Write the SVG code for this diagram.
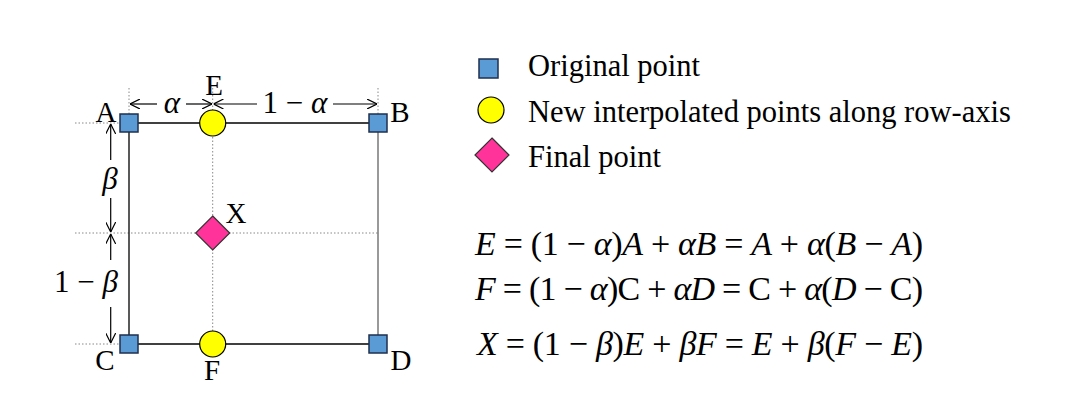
<svg xmlns="http://www.w3.org/2000/svg" width="1065" height="414" viewBox="0 0 1065 414">
<defs>
<style>
text{font-family:'Liberation Serif','Times New Roman','DejaVu Serif',serif;fill:#000}
.lbl{font-size:29px}
.dim{font-size:31px}
.leg{font-size:30.5px}
.eq{font-size:34px}
.i{font-style:italic}
.dot{stroke:#888;stroke-width:1;stroke-dasharray:1.5 2;fill:none}
.sq{fill:#5b9bd5;stroke:#1f2f4f;stroke-width:1.5}
.ci{fill:#ffff00;stroke:#000;stroke-width:1.2}
.di{fill:#ff3399;stroke:#333;stroke-width:1.2}
.arr{stroke:#000;stroke-width:1.2;fill:none;marker-end:url(#ah)}
</style>
<marker id="ah" viewBox="0 0 10 10" refX="10" refY="5" markerWidth="10" markerHeight="10" markerUnits="userSpaceOnUse" orient="auto">
<path d="M0,0 L10,5 L0,10" fill="none" stroke="#000" stroke-width="1.2"/>
</marker>
</defs>
<rect width="1065" height="414" fill="#fff"/>
<g id="guides">
<line class="dot" x1="75" y1="123" x2="129" y2="123"/>
<line class="dot" x1="75" y1="233" x2="378" y2="233"/>
<line class="dot" x1="75" y1="344" x2="129" y2="344"/>
<line class="dot" x1="129" y1="88" x2="129" y2="123"/>
<line class="dot" x1="378" y1="88" x2="378" y2="123"/>
<line class="dot" x1="212.7" y1="88" x2="212.7" y2="344"/>
</g>
<g id="connectors">
<line x1="129" y1="123" x2="378" y2="123" stroke="#000" stroke-width="1.5"/>
<line x1="129" y1="344" x2="378" y2="344" stroke="#000" stroke-width="1.5"/>
<line x1="129" y1="123" x2="129" y2="344" stroke="#222" stroke-width="1.5"/>
<line x1="378" y1="123" x2="378" y2="344" stroke="#777" stroke-width="1.5"/>
<line class="arr" x1="157" y1="104" x2="130" y2="104"/>
<line class="arr" x1="186" y1="104" x2="212" y2="104"/>
<line class="arr" x1="257" y1="104" x2="213.5" y2="104"/>
<line class="arr" x1="333" y1="104" x2="377" y2="104"/>
<line class="arr" x1="110.7" y1="160" x2="110.7" y2="124"/>
<line class="arr" x1="110.7" y1="198" x2="110.7" y2="232"/>
<line class="arr" x1="110.7" y1="260" x2="110.7" y2="234"/>
<line class="arr" x1="110.7" y1="307" x2="110.7" y2="343"/>
</g>
<g id="dim-labels">
<text class="dim i" x="172" y="113" text-anchor="middle">α</text>
<text class="dim" x="295" y="113" text-anchor="middle">1 − <tspan class="i">α</tspan></text>
<text class="dim i" x="110" y="189" text-anchor="middle">β</text>
<text class="dim" x="86" y="292" text-anchor="middle">1 − <tspan class="i">β</tspan></text>
</g>
<g id="node-A"><rect class="sq" x="120" y="114" width="18" height="18"/><text class="lbl" x="106" y="122" text-anchor="middle">A</text></g>
<g id="node-B"><rect class="sq" x="369" y="114" width="18" height="18"/><text class="lbl" x="400" y="122" text-anchor="middle">B</text></g>
<g id="node-C"><rect class="sq" x="120" y="335" width="18" height="18"/><text class="lbl" x="105" y="370" text-anchor="middle">C</text></g>
<g id="node-D"><rect class="sq" x="369" y="335" width="18" height="18"/><text class="lbl" x="401" y="370" text-anchor="middle">D</text></g>
<g id="node-E"><circle class="ci" cx="212.7" cy="123" r="13"/><text class="lbl" x="214" y="95" text-anchor="middle">E</text></g>
<g id="node-F"><circle class="ci" cx="212.7" cy="344" r="13"/><text class="lbl" x="212" y="380" text-anchor="middle">F</text></g>
<g id="node-X"><polygon class="di" points="212.7,216 229.7,233 212.7,250 195.7,233"/><text class="lbl" x="236" y="223" text-anchor="middle">X</text></g>
<g id="legend">
<rect class="sq" x="479" y="59" width="19" height="19"/>
<text class="leg" x="528" y="76">Original point</text>
<circle class="ci" cx="491" cy="110" r="13"/>
<text class="leg" x="528" y="122">New interpolated points along row-axis</text>
<polygon class="di" points="492,138 509,155 492,172 475,155"/>
<text class="leg" x="528" y="167">Final point</text>
</g>
<g id="equations">
<text class="eq" x="475" y="255" textLength="448" lengthAdjust="spacing"><tspan class="i">E</tspan> = (1 − <tspan class="i">α</tspan>)<tspan class="i">A</tspan> + <tspan class="i">αB</tspan> = <tspan class="i">A</tspan> + <tspan class="i">α</tspan>(<tspan class="i">B</tspan> − <tspan class="i">A</tspan>)</text>
<text class="eq" x="475" y="300" textLength="448" lengthAdjust="spacing"><tspan class="i">F</tspan> = (1 − <tspan class="i">α</tspan>)C + <tspan class="i">αD</tspan> = C + <tspan class="i">α</tspan>(<tspan class="i">D</tspan> − C)</text>
<text class="eq" x="477" y="355" textLength="446" lengthAdjust="spacing"><tspan class="i">X</tspan> = (1 − <tspan class="i">β</tspan>)<tspan class="i">E</tspan> + <tspan class="i">βF</tspan> = <tspan class="i">E</tspan> + <tspan class="i">β</tspan>(<tspan class="i">F</tspan> − <tspan class="i">E</tspan>)</text>
</g>
</svg>
